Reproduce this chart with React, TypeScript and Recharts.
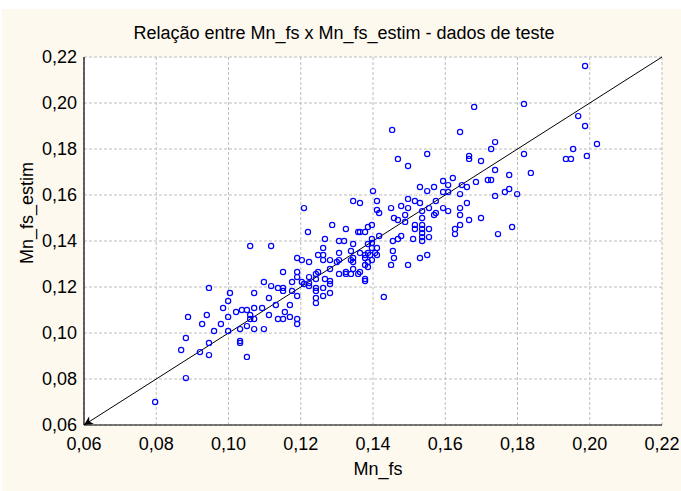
import React from 'react';
import { ScatterChart, Scatter, XAxis, YAxis, CartesianGrid, ReferenceLine } from 'recharts';

// eixos: marcas principais (0,02) e marcas internas do topo / direita
const majorTicks = [0.06, 0.08, 0.1, 0.12, 0.14, 0.16, 0.18, 0.2, 0.22];
const topTicks = [
  0.06, 0.07, 0.08, 0.09, 0.1, 0.11, 0.12, 0.13, 0.14, 0.15, 0.16, 0.17, 0.18, 0.19, 0.2, 0.21, 0.22,
];
const rightTicks = [
  0.06, 0.0684, 0.0768, 0.0853, 0.0937, 0.1021, 0.1105, 0.1189, 0.1274, 0.1358, 0.1442, 0.1526,
  0.1611, 0.1695, 0.1779, 0.1863, 0.1947, 0.2032, 0.2116, 0.22,
];

// linha y = x
const diagonal = [
  { x: 0.06, y: 0.06 },
  { x: 0.22, y: 0.22 },
];

// [Mn_fs, Mn_fs_estim]
const testPoints: [number, number][] = [
  [0.0797, 0.07], [0.0882, 0.0804], [0.0869, 0.0926], [0.0882, 0.0978], [0.0888, 0.107],
  [0.0921, 0.0917], [0.0946, 0.0904], [0.0946, 0.0957], [0.096, 0.1009], [0.0999, 0.1009],
  [0.0927, 0.1039], [0.0979, 0.1039], [0.094, 0.1078], [0.0999, 0.107], [0.0985, 0.1109],
  [0.0999, 0.1139], [0.1004, 0.1174], [0.0946, 0.1196], [0.1021, 0.1091],
  [0.1032, 0.1017], [0.1032, 0.0965], [0.1032, 0.0957], [0.1037, 0.11], [0.1051, 0.11],
  [0.106, 0.1078], [0.106, 0.1061], [0.1071, 0.1061], [0.1051, 0.103], [0.1071, 0.1017],
  [0.1098, 0.1017], [0.1051, 0.0896], [0.1071, 0.1109], [0.1093, 0.1109], [0.1071, 0.1174],
  [0.1098, 0.1222], [0.1112, 0.1152], [0.1112, 0.1078], [0.1131, 0.1122], [0.1118, 0.1204],
  [0.1137, 0.1196], [0.1151, 0.1196], [0.1151, 0.1183], [0.1176, 0.1183], [0.119, 0.1161],
  [0.1156, 0.1091], [0.1137, 0.1061], [0.1151, 0.1061], [0.117, 0.107], [0.117, 0.1122],
  [0.119, 0.1061], [0.119, 0.1039], [0.1176, 0.1222], [0.106, 0.1378], [0.1118, 0.1378],
  [0.1203, 0.1222], [0.1223, 0.1204], [0.1209, 0.1213], [0.1242, 0.1196], [0.1242, 0.1152],
  [0.1242, 0.113], [0.1262, 0.1196], [0.1262, 0.1161], [0.1281, 0.1174], [0.1281, 0.1213],
  [0.1281, 0.1226], [0.1267, 0.1235], [0.1209, 0.1543], [0.122, 0.1439], [0.1267, 0.1409],
  [0.1262, 0.137], [0.1248, 0.1339], [0.1262, 0.1339], [0.1262, 0.1317], [0.1281, 0.1317],
  [0.119, 0.1326], [0.1203, 0.1317], [0.1223, 0.1309], [0.1151, 0.1265], [0.119, 0.1265],
  [0.119, 0.1243], [0.1223, 0.1243], [0.1248, 0.1265], [0.1242, 0.1257], [0.1242, 0.1235],
  [0.1223, 0.1217], [0.1281, 0.1278], [0.1242, 0.1183],
  [0.1453, 0.1883], [0.1469, 0.1757], [0.1497, 0.1726], [0.14, 0.1617], [0.1345, 0.1574],
  [0.1364, 0.1565], [0.1411, 0.1574], [0.1411, 0.1535], [0.1417, 0.1522], [0.145, 0.1543],
  [0.1478, 0.1552], [0.1458, 0.15], [0.1469, 0.1491], [0.1489, 0.1513], [0.1489, 0.1483],
  [0.1287, 0.147], [0.1325, 0.1452], [0.1359, 0.1439], [0.1364, 0.1439], [0.1378, 0.1439],
  [0.1386, 0.1461], [0.1397, 0.147], [0.1306, 0.14], [0.132, 0.14], [0.1345, 0.1387],
  [0.1397, 0.1409], [0.1417, 0.1422], [0.1386, 0.1387], [0.1397, 0.1391], [0.1411, 0.137],
  [0.1397, 0.137], [0.1339, 0.1357], [0.1364, 0.1348], [0.1386, 0.1348], [0.1406, 0.1348],
  [0.1378, 0.1339], [0.1392, 0.1339], [0.1411, 0.1339], [0.1345, 0.1326], [0.1306, 0.1348],
  [0.1306, 0.1317], [0.13, 0.1309], [0.1339, 0.1317], [0.1345, 0.1309], [0.1378, 0.1326],
  [0.1386, 0.1309], [0.1397, 0.1317], [0.1378, 0.1296], [0.1386, 0.1287], [0.1455, 0.1357],
  [0.1458, 0.1326], [0.145, 0.1296], [0.1497, 0.1296], [0.153, 0.1326], [0.155, 0.1339],
  [0.1455, 0.14], [0.1469, 0.1409], [0.1478, 0.1422], [0.1511, 0.1409], [0.1325, 0.1265],
  [0.1325, 0.1257], [0.1339, 0.1257], [0.1345, 0.1278], [0.1359, 0.1257], [0.1364, 0.1265],
  [0.1378, 0.1235], [0.1378, 0.1226], [0.1306, 0.1257], [0.143, 0.1157],
  [0.155, 0.1778], [0.153, 0.1635], [0.155, 0.1617], [0.1569, 0.1635], [0.1594, 0.1661],
  [0.1621, 0.1674], [0.1608, 0.1643], [0.1594, 0.1613], [0.1608, 0.1613], [0.1497, 0.1583],
  [0.1516, 0.1574], [0.153, 0.1565], [0.1574, 0.1574], [0.1497, 0.1543], [0.1536, 0.153],
  [0.1555, 0.1543], [0.1594, 0.1543], [0.1608, 0.153], [0.1536, 0.15], [0.1569, 0.1513],
  [0.1574, 0.1522], [0.1516, 0.147], [0.1516, 0.1452], [0.1536, 0.147], [0.1536, 0.1452],
  [0.1536, 0.1435], [0.1536, 0.1417], [0.1536, 0.14], [0.1555, 0.1452], [0.1555, 0.1417],
  [0.1627, 0.1452], [0.1627, 0.143], [0.1641, 0.147], [0.1641, 0.1513], [0.1641, 0.1543],
  [0.1641, 0.1604], [0.166, 0.1565], [0.1666, 0.1491], [0.1699, 0.15],
  [0.168, 0.1983], [0.1818, 0.1996], [0.1641, 0.1874], [0.1738, 0.183], [0.1727, 0.18],
  [0.1666, 0.177], [0.1666, 0.1757], [0.1699, 0.1748], [0.1818, 0.1778], [0.1738, 0.1709],
  [0.1777, 0.1687], [0.1837, 0.1696], [0.1646, 0.1643], [0.166, 0.1635], [0.1685, 0.1657],
  [0.1718, 0.1665], [0.1727, 0.1665], [0.1738, 0.1596], [0.1765, 0.1613], [0.1777, 0.1626],
  [0.1799, 0.1604], [0.1746, 0.143], [0.1785, 0.1461], [0.1968, 0.1943], [0.1987, 0.19],
  [0.1954, 0.18], [0.1934, 0.1757], [0.1948, 0.1757], [0.1992, 0.177], [0.202, 0.1822],
  [0.1987, 0.2161],
];

const points = testPoints.map(([x, y]) => ({ x, y }));

const FONT = '"Liberation Sans", Arial, sans-serif';
const fmt = (v: number) => v.toFixed(2).replace('.', ',');

const OpenCircle = (props: any) => {
  const { cx, cy } = props;
  if (cx == null || cy == null) return <g />;
  return <circle cx={cx} cy={cy} r={2.6} fill="none" stroke="#0000ff" strokeWidth={1.2} />;
};

const DiagonalShape = (props: any) => {
  const { x1, y1, x2, y2 } = props;
  return (
    <g>
      <defs>
        <marker
          id="diagArrow"
          viewBox="0 0 10 10"
          refX="10"
          refY="5"
          markerWidth="11"
          markerHeight="9"
          markerUnits="userSpaceOnUse"
          orient="auto-start-reverse"
        >
          <path d="M0,0 L10,5 L0,10 L3,5 z" fill="#000" />
        </marker>
      </defs>
      <line x1={x1} y1={y1} x2={x2} y2={y2} stroke="#000" strokeWidth={1} markerStart="url(#diagArrow)" />
    </g>
  );
};

const tickStyle = { fill: '#000', fontSize: 18, fontFamily: FONT };

export default function App() {
  return (
    <div style={{ position: 'absolute', left: 0, top: 0, width: 681, height: 491, background: '#fff', fontFamily: FONT }}>
      <div style={{ position: 'absolute', left: 2, top: 9, right: 0, bottom: 0, background: '#fdf9ef' }} />
      <ScatterChart
        width={681}
        height={491}
        margin={{ top: 57, right: 19, bottom: 36, left: 24 }}
        style={{ position: 'absolute', left: 0, top: 0 }}
      >
        <CartesianGrid
          stroke="#bdbdbd"
          strokeDasharray="3 2"
          fill="#ffffff"
          fillOpacity={1}
        />
        <XAxis
          type="number"
          dataKey="x"
          domain={[0.06, 0.22]}
          ticks={majorTicks}
          interval={0}
          tickFormatter={fmt}
          tick={tickStyle}
          tickLine={false}
          tickSize={0}
          tickMargin={12}
          height={30}
          axisLine={{ stroke: '#000', strokeWidth: 1.2 }}
        />
        <YAxis
          type="number"
          dataKey="y"
          domain={[0.06, 0.22]}
          ticks={majorTicks}
          interval={0}
          tickFormatter={fmt}
          tick={tickStyle}
          tickLine={false}
          tickSize={0}
          tickMargin={7}
          width={60}
          axisLine={{ stroke: '#000', strokeWidth: 1.2 }}
        />
        <XAxis
          xAxisId="top"
          orientation="top"
          mirror
          type="number"
          domain={[0.06, 0.22]}
          ticks={topTicks}
          interval={0}
          tick={false}
          tickSize={4}
          height={0}
          axisLine={{ stroke: '#000', strokeWidth: 1.2 }}
          tickLine={{ stroke: '#000' }}
        />
        <YAxis
          yAxisId="right"
          orientation="right"
          mirror
          type="number"
          domain={[0.06, 0.22]}
          ticks={rightTicks}
          interval={0}
          tick={false}
          tickSize={4}
          width={0}
          axisLine={{ stroke: '#000', strokeWidth: 1.2 }}
          tickLine={{ stroke: '#000' }}
        />
        <ReferenceLine
          segment={diagonal}
          ifOverflow="visible"
          shape={DiagonalShape}
        />
        <Scatter data={points} shape={OpenCircle} isAnimationActive={false} />
      </ScatterChart>
      <div style={{ position: 'absolute', left: 0, width: 688, top: 23, textAlign: 'center', fontSize: 18, lineHeight: '20px', color: '#000' }}>
        Relação entre Mn_fs x Mn_fs_estim - dados de teste
      </div>
      <div style={{ position: 'absolute', left: 278, width: 200, top: 459, textAlign: 'center', fontSize: 18, lineHeight: '20px', color: '#000' }}>
        Mn_fs
      </div>
      <div
        style={{
          position: 'absolute',
          left: 27 - 100,
          top: 213 - 10,
          width: 200,
          textAlign: 'center',
          fontSize: 18,
          lineHeight: '20px',
          color: '#000',
          transform: 'rotate(-90deg)',
        }}
      >
        Mn_fs_estim
      </div>
    </div>
  );
}
